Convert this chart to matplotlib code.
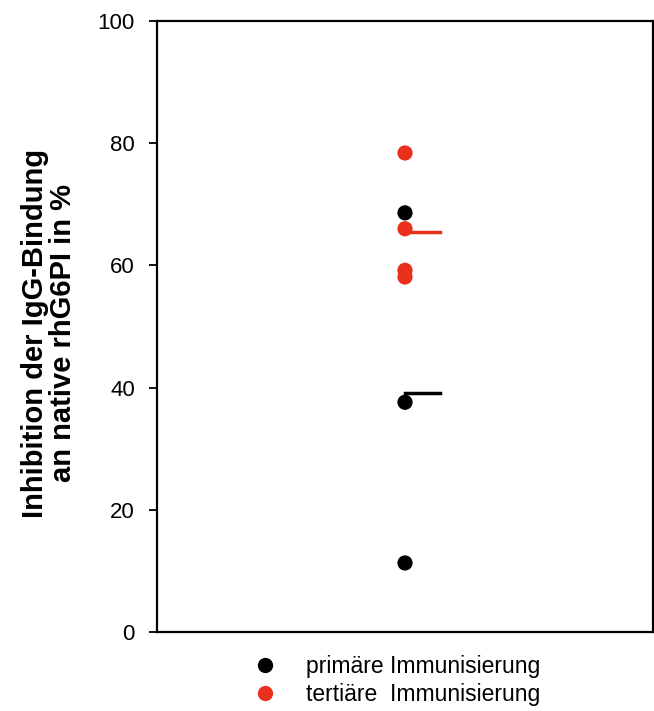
import matplotlib
matplotlib.use("Agg")
import matplotlib.pyplot as plt
from matplotlib.lines import Line2D

plt.rcParams['font.family'] = ['Liberation Sans', 'DejaVu Sans']

primaer = [68.6, 37.6, 11.3]
tertiaer = [78.4, 66.0, 59.2, 58.1]
labels = ["primäre Immunisierung", "tertiäre  Immunisierung"]
colors = ["black", "#e8301c"]
yticks = [0, 20, 40, 60, 80, 100]

fig = plt.figure(figsize=(6.54, 7.11), dpi=100)
ax = fig.add_axes([157/654, 1-632/711, 496/654, 611/711])
ax.set_xlim(0, 1)
ax.set_ylim(0, 100)

xpos = 0.5
for vals, c in [(primaer, colors[0]), (tertiaer, colors[1])]:
    ax.scatter([xpos]*len(vals), vals, s=120, color=c, zorder=3, edgecolors='none')
    m = sum(vals)/len(vals)
    ax.plot([xpos, xpos+0.071], [m, m], color=c, lw=2.5, zorder=2)

ax.set_xticks([])
ax.set_yticks(yticks)
ax.tick_params(axis='y', direction='out', length=6, width=1.3, labelsize=16, pad=10)
for s in ax.spines.values():
    s.set_linewidth(1.6)

fig.text(49/654, 1-333/711, "Inhibition der IgG-Bindung\nan native rhG6PI in %", rotation=90,
         ha='center', va='center', multialignment='center', fontsize=21, fontweight='bold',
         linespacing=1.0)

handles = [Line2D([], [], marker='o', ls='none', color=c, markersize=11, markeredgewidth=0) for c in colors]
fig.legend(handles, labels, loc='upper left', bbox_to_anchor=(242/654, 1-655/711), frameon=False,
           fontsize=16.5, handletextpad=0.78, labelspacing=0.2, borderaxespad=0, borderpad=0)

fig.savefig("out.png", dpi=100)
